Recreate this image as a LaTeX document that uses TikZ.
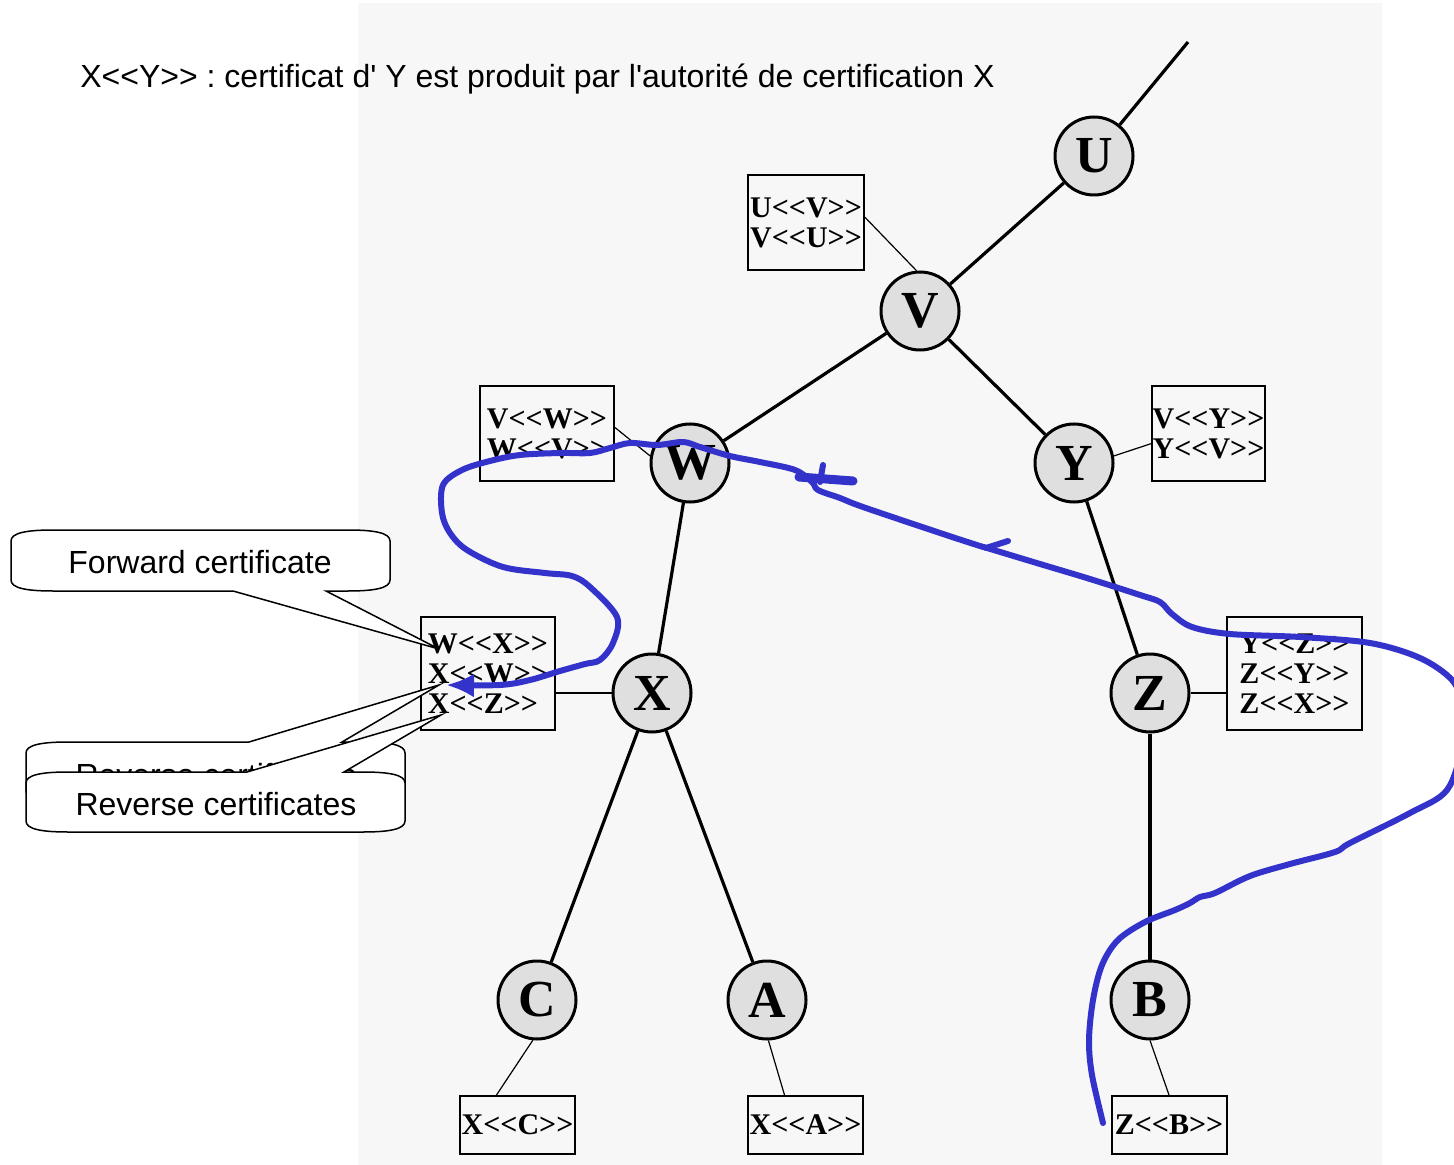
\documentclass[tikz,border=0pt]{standalone}
\usepackage{fontspec}
\setmainfont{Liberation Serif}
\setsansfont{Liberation Sans}
\usetikzlibrary{arrows.meta}

\definecolor{paper}{HTML}{F7F7F7}
\definecolor{pen}{HTML}{3333CC}

% X<<Y>> without the << >> ligatures
\newcommand\certof[2]{#1<\kern0pt<#2>\kern0pt>}

\tikzset{
  ca/.style={shape=circle,draw,line width=1.5pt,fill=gray!25,minimum size=39pt,inner sep=0pt,
    font=\bfseries\fontsize{26}{26}\selectfont},
  certbox/.style={draw,line width=1pt,inner sep=0pt,align=left,
    font=\bfseries\fontsize{15}{15}\selectfont},
  edge/.style={line width=1.6pt},
  link/.style={line width=0.6pt},
  bubble/.style={draw,fill=white,line width=0.75pt},
  note/.style={font=\sffamily\frenchspacing\fontsize{16}{16}\selectfont},
  scribble/.style={draw=pen,line width=3pt,line cap=round,line join=round}
}

\begin{document}
\begin{tikzpicture}[x=0.5pt,y=-0.5pt]
\clip (0,0) rectangle (1454,1165);
\fill [paper] (358,3) rectangle (1382,1165);

\node (legend) at (80,88) [note,anchor=base west,inner sep=0pt]
  {\certof{X}{Y} : certificat d\textquotesingle{} Y est produit par l\textquotesingle autorité de certification X};

% hierarchy of CAs
\path node (U) at (1094,156) [ca] {U}
      node (V) at (920,311) [ca] {V}
      node (W) at (690,463) [ca] {W}
      node (Y) at (1074,463) [ca] {Y}
      node (X) at (652,693) [ca] {X}
      node (Z) at (1150,693) [ca] {Z}
      node (C) at (537,1000) [ca] {C}
      node (A) at (767,1000) [ca] {A}
      node (B) at (1150,1000) [ca] {B};
\coordinate (root) at (1188,42);
\draw [edge] (root) to (U);
\draw [edge] (U) to (V);
\draw [edge] (V) to (W);
\draw [edge] (V) to (Y);
\draw [edge] (W) to (X);
\draw [edge] (Y) to (Z);
\draw [edge] (X) to (C);
\draw [edge] (X) to (A);
\draw [edge] (Z) to (B);

% certificates kept at each CA
\path node (uvbox) at (806,222.5) [certbox,minimum width=58pt,minimum height=47.5pt]
        {\certof{U}{V}\\\certof{V}{U}}
      node (vwbox) at (547,433.5) [certbox,minimum width=67pt,minimum height=47.5pt]
        {\certof{V}{W}\\\certof{W}{V}}
      node (vybox) at (1208.5,433.5) [certbox,minimum width=56.5pt,minimum height=47.5pt]
        {\certof{V}{Y}\\\certof{Y}{V}}
      node (xbox) at (488,673.5) [certbox,minimum width=67pt,minimum height=56.5pt]
        {\certof{W}{X}\\\certof{X}{W}\\\certof{X}{Z}}
      node (zbox) at (1294.5,673.5) [certbox,minimum width=67.5pt,minimum height=56.5pt]
        {\certof{Y}{Z}\\\certof{Z}{Y}\\\certof{Z}{X}}
      node (xcbox) at (517.5,1125) [certbox,minimum width=57.5pt,minimum height=29pt] {\certof{X}{C}}
      node (xabox) at (805.5,1125) [certbox,minimum width=57.5pt,minimum height=29pt] {\certof{X}{A}}
      node (zbbox) at (1169,1125) [certbox,minimum width=57.5pt,minimum height=29pt] {\certof{Z}{B}};
\draw [link] (uvbox.5) to (V.95);
\draw [link] (vwbox.5) to (W.170);
\draw [link] (Y.10) to (vybox.190);
\draw [link] (X.west) to (X.west -| xbox.east);
\draw [link] (Z.east) to (Z.east -| zbox.west);
\draw [link] (C.264) to (xcbox.125);
\draw [link] (A.272) to (xabox.125);
\draw [link] (B.south) to (zbbox.north);

% callouts
\draw [bubble] (53,530) -- (348,530) .. controls (375,530) and (390,533) .. (390,541)
  -- (390,580) .. controls (390,588) and (375,591) .. (348,591) -- (326,591) -- (439,649)
  -- (233,591) -- (53,591) .. controls (26,591) and (11,588) .. (11,580)
  -- (11,541) .. controls (11,533) and (26,530) .. (53,530) -- cycle;
\node (fwd) at (200,562) [note] {Forward certificate};

\draw [bubble] (68,742) -- (249,742) -- (439,685) -- (342,742) -- (363,742)
  .. controls (390,742) and (405,745) .. (405,753) -- (405,791)
  .. controls (405,799) and (390,802) .. (363,802) -- (68,802)
  .. controls (41,802) and (26,799) .. (26,791) -- (26,753)
  .. controls (26,745) and (41,742) .. (68,742) -- cycle;
\node (revback) at (216,775) [note] {Reverse certificates};

\draw [bubble] (68,772) -- (247,772) -- (441,715) -- (344,772) -- (363,772)
  .. controls (390,772) and (405,775) .. (405,783) -- (405,821)
  .. controls (405,829) and (390,832) .. (363,832) -- (68,832)
  .. controls (41,832) and (26,829) .. (26,821) -- (26,783)
  .. controls (26,775) and (41,772) .. (68,772) -- cycle;
\node (rev) at (216,804) [note] {Reverse certificates};

% hand-drawn path back to X
\draw [scribble,-{Latex[length=14pt,width=12pt]}] plot [smooth,tension=0.55] coordinates {
  (1103,1123) (1092,1075) (1089,1040) (1093,1000) (1102,965) (1118,940) (1145,922)
  (1175,910) (1190,903) (1200,897) (1215,893) (1250,876) (1290,864) (1335,852)
  (1350,843) (1410,813) (1447,790) (1462,745) (1462,705) (1452,680) (1420,658)
  (1370,643) (1300,637) (1230,634) (1192,627) (1172,614) (1160,602) (1140,595)
  (1090,579) (1040,564) (987,548) (980,546) (940,533) (863,507) (840,498) (818,490) (812,482)
  (795,470) (760,462) (730,456) (700,447) (683,442) (657,445) (630,443) (610,448)
  (590,453) (560,453) (520,455) (490,461) (462,470) (443,485) (442,513) (450,533)
  (467,550) (503,567) (545,573) (572,576) (590,587) (617,617) (613,643) (600,660)
  (585,664) (560,671) (530,680) (500,685) (446,685)};
\draw [scribble] (986,548) -- (1008,541);
\draw [scribble,line width=4.5pt] (799,477) -- (853,481);
\draw [scribble] (823,465) -- (820,482);
\end{tikzpicture}
\end{document}
